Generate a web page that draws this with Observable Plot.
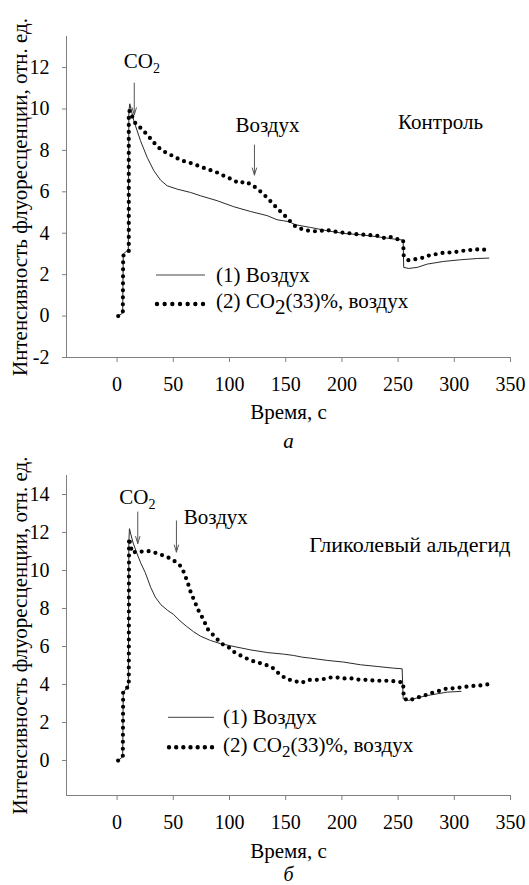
<!DOCTYPE html>
<html><head><meta charset="utf-8">
<script src="https://cdn.jsdelivr.net/npm/d3@7"></script>
<script src="https://cdn.jsdelivr.net/npm/@observablehq/plot@0.6"></script>
<style>
body{margin:0;background:#fff;width:529px;height:885px;position:relative;overflow:hidden;font-family:"Liberation Serif","Times New Roman",serif;}
.panel{position:absolute;left:0;}
.panel svg text{font-family:"Liberation Serif","Times New Roman",serif;}
</style></head><body>
<div id="pa" class="panel" style="top:0"></div>
<div id="pb" class="panel" style="top:455px"></div>
<script>
// ---------- shared text ----------
const xTicks = [0, 50, 100, 150, 200, 250, 300, 350];
const xDomain = [-45, 350];
const xTitle = "Время, с";
const yTitle = "Интенсивность флуоресценции, отн. ед.";
const legend1 = "(1) Воздух";
const legend2a = "(2) CO";
const legend2b = "(33)%, воздух";

// ---------- panel а (Контроль) ----------
const yTicksA = [-2, 0, 2, 4, 6, 8, 10, 12];
const yDomainA = [-2, 13.5];
const aAirT = [1, 5, 5.5, 10, 10.5, 11.3, 14.9, 20.8, 26.8, 32.7, 38.6, 44.6, 53.5, 65.3, 74.2, 89.1, 103.8, 118.7, 133.5, 142.4, 148.3, 152.8, 158.7, 172, 186.9, 201.7, 216.5, 231.4, 246.2, 254.5, 255, 259.5, 267, 275.9, 290.7, 305.5, 320.4, 330.7];
const aAirY = [0, 0.15, 3.0, 3.2, 9.9, 10.25, 9.43, 8.47, 7.66, 7.02, 6.57, 6.29, 6.13, 5.97, 5.81, 5.57, 5.28, 5.05, 4.85, 4.65, 4.6, 4.56, 4.41, 4.28, 4.12, 3.99, 3.93, 3.83, 3.72, 3.67, 2.35, 2.3, 2.35, 2.51, 2.64, 2.72, 2.78, 2.8];
const aCo2T = [1, 5.1, 5.4, 10.4, 10.4, 11.3, 15.7, 22.9, 28.8, 35.1, 40.1, 46, 52, 57.9, 63.8, 69.8, 75.7, 81.6, 87.5, 93.5, 99.4, 103.8, 109.2, 113.6, 120.2, 126.1, 132.7, 138, 143, 148.3, 153.6, 158.7, 165.6, 172.7, 179.4, 186, 192.3, 199, 205.2, 212.1, 219, 224.8, 231.4, 236.7, 242.6, 248.6, 254.5, 255, 259, 265.5, 272.3, 278.8, 285.3, 291.5, 297.5, 304.6, 311.5, 317.3, 322.7, 328.6];
const aCo2Y = [0, 0.17, 2.91, 3.15, 9.84, 9.92, 9.35, 8.98, 8.63, 8.23, 7.99, 7.83, 7.66, 7.5, 7.42, 7.31, 7.18, 7.07, 6.97, 6.81, 6.67, 6.54, 6.41, 6.5, 6.33, 6.09, 5.76, 5.46, 5.17, 4.9, 4.6, 4.33, 4.17, 4.1, 4.09, 4.17, 4.09, 4.04, 4.01, 3.96, 3.93, 3.91, 3.88, 3.77, 3.83, 3.72, 3.67, 2.91, 2.7, 2.75, 2.82, 2.95, 3.0, 3.07, 3.07, 3.12, 3.19, 3.19, 3.24, 3.19];
const aLabels = [
  {x: 6, y: 12, text: "CO2", size: 21},
  {x: 105.3, y: 8.9, text: "Воздух", size: 21},
  {x: 250, y: 9.02, text: "Контроль", size: 21}
];
const aArrows = [
  {x: 15.3, y1: 11.25, y2: 9.72},
  {x: 122.2, y1: 8.26, y2: 6.81}
];

// ---------- panel б (Гликолевый альдегид) ----------
const yTicksB = [0, 2, 4, 6, 8, 10, 12, 14];
const yDomainB = [-1.84, 15];
const bAirT = [1, 5, 5.5, 10, 10.5, 11, 14, 17, 21, 25, 30, 34, 39, 45, 50, 56, 62, 68, 74, 83, 92, 104, 119, 134, 148, 157, 164.7, 172, 186.9, 201.7, 216.5, 231.4, 246.2, 253.6, 254.5, 259, 267, 275.9, 284.8, 293.7, 306];
const bAirY = [0, 0.2, 3.6, 3.9, 11.5, 12.2, 11.5, 11.0, 10.4, 9.9, 9.1, 8.6, 8.2, 7.9, 7.7, 7.35, 7.05, 6.78, 6.55, 6.32, 6.15, 6.0, 5.82, 5.68, 5.6, 5.53, 5.44, 5.39, 5.27, 5.18, 5.04, 4.95, 4.86, 4.83, 3.25, 3.16, 3.3, 3.42, 3.51, 3.6, 3.64];
const bCo2T = [0.9, 5.1, 5.4, 10.4, 10.6, 13.4, 18.8, 23.2, 28.2, 34.2, 40.1, 46, 52, 56.4, 59.3, 61.7, 63.8, 65.9, 68.9, 71.8, 75.1, 78, 80.7, 84, 88, 93, 99.4, 103.8, 109.8, 115.7, 123.1, 130.5, 138, 143.9, 150.7, 157.2, 163.8, 170, 176.5, 183.9, 189.9, 195.8, 201.7, 208.5, 215.7, 222.5, 229.3, 235.9, 243.2, 249.2, 254.5, 255, 259, 266.1, 272.9, 279.4, 286.8, 293.7, 299, 306.1, 312.9, 319.8, 326.9, 333.1];
const bCo2Y = [0, 0.21, 3.67, 3.9, 11.7, 10.93, 11.02, 10.99, 11.02, 10.93, 10.81, 10.67, 10.46, 10.24, 9.92, 9.54, 9.19, 8.78, 8.4, 7.96, 7.61, 7.26, 6.91, 6.7, 6.45, 6.15, 5.95, 5.72, 5.53, 5.36, 5.18, 5.08, 4.9, 4.58, 4.29, 4.2, 4.08, 4.24, 4.24, 4.29, 4.37, 4.37, 4.32, 4.32, 4.25, 4.25, 4.2, 4.2, 4.2, 4.15, 4.11, 3.29, 3.15, 3.29, 3.41, 3.55, 3.67, 3.8, 3.8, 3.85, 3.9, 3.94, 3.97, 4.06];
const bLabels = [
  {x: 2, y: 13.52, text: "CO2", size: 21},
  {x: 59.3, y: 12.47, text: "Воздух", size: 21},
  {x: 171, y: 10.97, text: "Гликолевый альдегид", size: 22}
];
const bArrows = [
  {x: 18.4, y1: 13.08, y2: 11.42},
  {x: 52.8, y1: 12.61, y2: 10.97}
];

const rows = (T, Y) => T.map((t, i) => ({t, v: Y[i]}));
const AXIS = "#808080";
const FONT = "'Liberation Serif', 'Times New Roman', serif";

function makePanel(o) {
  const svg = Plot.plot({
    width: 529, height: o.height,
    marginLeft: 66, marginRight: 19, marginTop: o.marginTop, marginBottom: o.marginBottom,
    style: `font-family: ${FONT}; font-size: 21px; background: transparent; color: black; overflow: visible;`,
    x: {domain: xDomain},
    y: {domain: o.yDomain},
    marks: [
      Plot.ruleY([o.yDomain[0]], {stroke: AXIS}),
      Plot.ruleX([xDomain[0]], {stroke: AXIS}),
      Plot.axisX({ticks: xTicks, tickSize: 5, tickPadding: 14, label: null, stroke: AXIS, fill: "black", fontSize: 20, fontFamily: FONT, tickFormat: d => String(d)}),
      Plot.axisY({ticks: o.yTicks, tickSize: 4, tickPadding: 13, label: null, stroke: AXIS, fill: "black", fontSize: 20, fontFamily: FONT, tickFormat: d => String(d)}),
      Plot.line(rows(o.airT, o.airY), {x: "t", y: "v", stroke: "#2a2a2a", strokeWidth: 1}),
      Plot.line(rows(o.co2T, o.co2Y), {x: "t", y: "v", stroke: "black", strokeWidth: 4.2, strokeDasharray: "0 7", strokeLinecap: "round"}),
      Plot.arrow(o.arrows, {x1: "x", x2: "x", y1: "y1", y2: "y2", stroke: "#555", strokeWidth: 1, headAngle: 34, headLength: 11}),
      Plot.text(o.labels, {x: "x", y: "y", text: "text", fontSize: d => d.size, textAnchor: "start", lineAnchor: "bottom", fill: "black", fontFamily: FONT}),
      Plot.text([yTitle], {text: d => d, frameAnchor: "left", textAnchor: "middle", rotate: -90, dx: -46, fontSize: 21, fontFamily: FONT, fill: "black"}),
      Plot.text([xTitle], {text: d => d, frameAnchor: "bottom", textAnchor: "middle", lineAnchor: "bottom", dy: o.xTitleDy, fontSize: 21, fontFamily: FONT, fill: "black"}),
      Plot.text([o.caption], {text: d => d, frameAnchor: "bottom", textAnchor: "middle", lineAnchor: "bottom", dy: o.captionDy, fontSize: o.captionSize, fontFamily: FONT, fontStyle: "italic", fill: "black"})
    ]
  });
  // subscripts for CO2 annotations
  d3.select(svg).selectAll("text").each(function() {
    if (this.textContent === "CO2") {
      this.textContent = "CO";
      d3.select(this).append("tspan").attr("dy", 5.7).attr("font-size", "14px").text("2");
    }
  });
  // legend (layout in pixels)
  const L = o.legend;
  const g = d3.select(svg).append("g")
    .attr("font-family", FONT).attr("font-size", 21)
    .attr("fill", "black").attr("text-anchor", "start");
  g.append("line").attr("x1", L.x0).attr("x2", L.x1).attr("y1", L.y1).attr("y2", L.y1).attr("stroke", "#444").attr("stroke-width", 1);
  g.append("text").attr("x", L.xt).attr("y", L.t1).attr("text-anchor", "start").text(legend1);
  g.append("line").attr("x1", L.x0 + 1).attr("x2", L.x1 - 2).attr("y1", L.y2).attr("y2", L.y2)
    .attr("stroke", "black").attr("stroke-width", 4.4).attr("stroke-linecap", "round").attr("stroke-dasharray", `0 ${(L.x1 - 3 - L.x0) / 6}`);
  const t2 = g.append("text").attr("x", L.xt).attr("y", L.t2).attr("text-anchor", "start");
  t2.append("tspan").text(legend2a);
  t2.append("tspan").attr("dy", L.subDy).attr("font-size", L.subSize).text("2");
  t2.append("tspan").attr("dy", -L.subDy).text(legend2b);
  return svg;
}

document.getElementById("pa").append(makePanel({
  height: 455, marginTop: 36, marginBottom: 98,
  yDomain: yDomainA, yTicks: yTicksA,
  airT: aAirT, airY: aAirY, co2T: aCo2T, co2Y: aCo2Y,
  labels: aLabels, arrows: aArrows,
  xTitleDy: 61, caption: "а", captionDy: 90, captionSize: 21,
  legend: {x0: 156, x1: 205, xt: 216, y1: 275, t1: 282, y2: 304, t2: 308, subDy: 6, subSize: "21px"}
}));
document.getElementById("pb").append(makePanel({
  height: 430, marginTop: 20, marginBottom: 90,
  yDomain: yDomainB, yTicks: yTicksB,
  airT: bAirT, airY: bAirY, co2T: bCo2T, co2Y: bCo2Y,
  labels: bLabels, arrows: bArrows,
  xTitleDy: 62, caption: "б", captionDy: 85, captionSize: 20,
  legend: {x0: 168, x1: 214, xt: 223, y1: 262.3, t1: 269, y2: 292.3, t2: 296.7, subDy: 5, subSize: "17px"}
}));
</script>
</body></html>
